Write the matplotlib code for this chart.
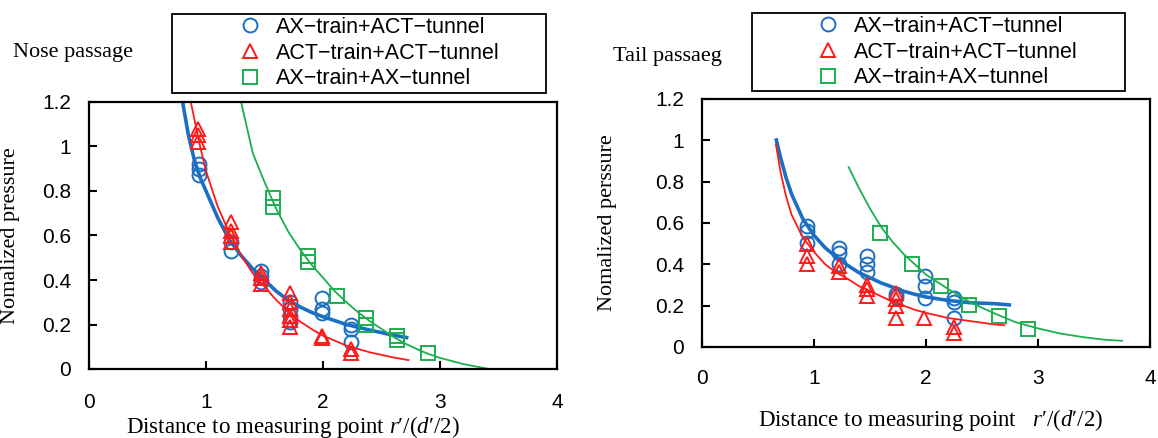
import numpy as np
import matplotlib
matplotlib.use("Agg")
from matplotlib import pyplot as plt
from matplotlib.patches import Rectangle
from matplotlib.ticker import MultipleLocator, FuncFormatter

plt.rcParams['font.family'] = ['Liberation Sans', 'DejaVu Sans']
plt.rcParams['mathtext.fontset'] = 'custom'
plt.rcParams['mathtext.rm'] = 'Liberation Serif'
plt.rcParams['mathtext.it'] = 'Liberation Serif:italic'

BLUE = '#1a6fc4'
RED = '#ff1a1a'
GREEN = '#1aaf4f'

labels = ['AX\u2212train+ACT\u2212tunnel', 'ACT\u2212train+ACT\u2212tunnel', 'AX\u2212train+AX\u2212tunnel']

#### Nose passage data
nose_ax_act_x = [0.94, 0.94, 0.94, 1.21, 1.21, 1.47, 1.47, 1.47, 1.72, 1.72, 1.72, 1.72,
                 1.99, 1.99, 1.99, 2.24, 2.24, 2.24]
nose_ax_act_y = [0.92, 0.90, 0.87, 0.57, 0.53, 0.44, 0.42, 0.39, 0.30, 0.27, 0.24, 0.21,
                 0.32, 0.27, 0.25, 0.20, 0.18, 0.12]
nose_act_act_x = [0.93, 0.93, 0.93, 1.21, 1.21, 1.21, 1.21, 1.47, 1.47, 1.47,
                  1.72, 1.72, 1.72, 1.72, 1.72, 1.72, 1.99, 1.99, 2.24, 2.24]
nose_act_act_y = [1.08, 1.05, 1.02, 0.66, 0.62, 0.60, 0.57, 0.43, 0.41, 0.38,
                  0.34, 0.30, 0.27, 0.24, 0.22, 0.19, 0.15, 0.14, 0.09, 0.07]
nose_ax_ax_x = [1.57, 1.57, 1.87, 1.87, 2.12, 2.37, 2.37, 2.63, 2.63, 2.90]
nose_ax_ax_y = [0.77, 0.73, 0.51, 0.48, 0.33, 0.23, 0.20, 0.15, 0.13, 0.07]

# fitted curves
nose_fit_blue_x = [0.80, 0.85, 0.90, 0.95, 1.0, 1.1, 1.2, 1.3, 1.4, 1.5, 1.6, 1.7, 1.8,
                   1.9, 2.0, 2.2, 2.4, 2.6, 2.73]
nose_fit_blue_y = [1.20, 1.05, 0.94, 0.86, 0.80, 0.68, 0.58, 0.51, 0.45, 0.40, 0.35, 0.31,
                   0.28, 0.255, 0.235, 0.20, 0.175, 0.152, 0.14]
nose_fit_red_x = [0.87, 0.95, 1.0, 1.1, 1.2, 1.3, 1.4, 1.5, 1.6, 1.7, 1.8, 1.9, 2.0,
                  2.2, 2.4, 2.6, 2.73]
nose_fit_red_y = [1.20, 1.00, 0.89, 0.73, 0.61, 0.51, 0.43, 0.37, 0.31, 0.26, 0.215, 0.18,
                  0.15, 0.105, 0.075, 0.052, 0.04]
nose_fit_green_x = [1.30, 1.4, 1.5, 1.6, 1.7, 1.8, 1.9, 2.0, 2.1, 2.2, 2.3, 2.4, 2.5,
                    2.6, 2.7, 2.8, 2.9, 3.0, 3.2, 3.42]
nose_fit_green_y = [1.20, 0.97, 0.84, 0.72, 0.62, 0.54, 0.47, 0.41, 0.35, 0.30, 0.255, 0.215,
                    0.18, 0.145, 0.115, 0.09, 0.068, 0.05, 0.022, 0.0]

#### Tail passage data
tail_ax_act_x = [0.94, 0.94, 0.94, 1.22, 1.22, 1.22, 1.47, 1.47, 1.47, 1.73, 1.73,
                 1.99, 1.99, 1.99, 2.25, 2.25, 2.25]
tail_ax_act_y = [0.585, 0.56, 0.505, 0.48, 0.455, 0.40, 0.44, 0.40, 0.365, 0.255, 0.24,
                 0.345, 0.295, 0.235, 0.235, 0.22, 0.14]
tail_act_act_x = [0.94, 0.94, 0.94, 1.22, 1.22, 1.47, 1.47, 1.47, 1.73, 1.73, 1.73, 1.73,
                  1.98, 2.25, 2.25]
tail_act_act_y = [0.50, 0.44, 0.40, 0.39, 0.365, 0.30, 0.28, 0.245, 0.26, 0.23, 0.20, 0.14,
                  0.14, 0.095, 0.07]
tail_ax_ax_x = [1.585, 1.875, 2.13, 2.385, 2.65, 2.91]
tail_ax_ax_y = [0.55, 0.40, 0.295, 0.205, 0.15, 0.085]

tail_fit_blue_x = [0.66, 0.70, 0.75, 0.80, 0.90, 1.0, 1.1, 1.2, 1.3, 1.4, 1.5, 1.6, 1.7,
                   1.8, 1.9, 2.0, 2.2, 2.4, 2.6, 2.76]
tail_fit_blue_y = [1.01, 0.92, 0.82, 0.74, 0.62, 0.54, 0.48, 0.435, 0.395, 0.36, 0.335, 0.31,
                   0.29, 0.27, 0.255, 0.242, 0.225, 0.214, 0.21, 0.203]
tail_fit_red_x = [0.66, 0.70, 0.75, 0.80, 0.90, 1.0, 1.1, 1.2, 1.3, 1.4, 1.5, 1.6, 1.7,
                  1.8, 1.9, 2.0, 2.2, 2.4, 2.6, 2.7]
tail_fit_red_y = [0.98, 0.85, 0.73, 0.64, 0.53, 0.46, 0.40, 0.36, 0.33, 0.295, 0.27, 0.245,
                  0.22, 0.20, 0.18, 0.165, 0.14, 0.125, 0.11, 0.105]
tail_fit_green_x = [1.31, 1.4, 1.5, 1.6, 1.7, 1.8, 1.9, 2.0, 2.2, 2.4, 2.6, 2.8, 3.0,
                    3.2, 3.4, 3.6, 3.75]
tail_fit_green_y = [0.87, 0.77, 0.67, 0.58, 0.51, 0.45, 0.40, 0.35, 0.28, 0.215, 0.165, 0.12,
                    0.09, 0.065, 0.048, 0.035, 0.03]

W, H = 1158, 438
fig = plt.figure(figsize=(W / 100, H / 100), dpi=100)


def px_box(x0, y0, x1, y1):
    return [x0 / W, 1 - y1 / H, (x1 - x0) / W, (y1 - y0) / H]


def Draw_Panel(ax, pts, fits, xpad):
    mk = dict(linestyle='none', markerfacecolor='none', markersize=10, markeredgewidth=1.4)
    (bx, by), (rx, ry), (gx, gy) = pts
    (fbx, fby), (frx, fry), (fgx, fgy) = fits
    h1, = ax.plot(bx, by, marker='o', color=BLUE, **mk)
    ax.plot(fbx, fby, color=BLUE, linewidth=2.6, solid_capstyle='butt')
    h2, = ax.plot(rx, ry, marker='^', color=RED, **mk)
    ax.plot(frx, fry, color=RED, linewidth=1.3)
    h3, = ax.plot(gx, gy, marker='s', color=GREEN, **mk)
    ax.plot(fgx, fgy, color=GREEN, linewidth=1.3)

    ax.set_xlim(0, 4)
    ax.set_ylim(0, 1.2)
    ax.xaxis.set_major_locator(MultipleLocator(1))
    ax.yaxis.set_major_locator(MultipleLocator(0.2))
    ax.yaxis.set_major_formatter(FuncFormatter(lambda v, p: '{:g}'.format(round(v, 2))))
    ax.tick_params(direction='in', length=6, width=1.5, labelsize=15)
    ax.tick_params(axis='x', pad=xpad)
    ax.tick_params(axis='y', pad=13)
    for s in ax.spines.values():
        s.set_linewidth(1.6)
    return [h1, h2, h3]


def Legend_Box(handles, x0, y0, x1, y1, mx):
    fig.add_artist(Rectangle((x0 / W, 1 - y1 / H), (x1 - x0) / W, (y1 - y0) / H,
                             transform=fig.transFigure, facecolor='white',
                             edgecolor='black', linewidth=1.3))
    fig.legend(handles, labels, loc='upper left', bbox_to_anchor=(mx / W, 1 - (y0 + 3) / H),
               frameon=False, fontsize=15.5, handlelength=0.9, handletextpad=0.75,
               labelspacing=0.22, borderpad=0.0, borderaxespad=0.0, numpoints=1)


XLABEL = "Distance to measuring point $r$\u2032/($d$\u2032/$\\mathit{2}$)"

ax1 = fig.add_axes(px_box(89, 102, 557, 369))
hs = Draw_Panel(ax1,
                [(nose_ax_act_x, nose_ax_act_y), (nose_act_act_x, nose_act_act_y), (nose_ax_ax_x, nose_ax_ax_y)],
                [(nose_fit_blue_x, nose_fit_blue_y), (nose_fit_red_x, nose_fit_red_y), (nose_fit_green_x, nose_fit_green_y)],
                17)
ax1.set_ylabel('Nomalized pressure', family='Liberation Serif', fontsize=16)
ax1.yaxis.set_label_coords(-0.147, 0.5)
fig.text(13 / W, 1 - 53 / H, 'Nose passage', family='Liberation Serif', fontsize=16, va='center')
fig.text(293 / W, 1 - 427 / H, XLABEL,
         family='Liberation Serif', fontsize=16.5, ha='center', va='center')
Legend_Box(hs, 172, 14, 546, 93, 240)

ax2 = fig.add_axes(px_box(702, 99, 1150, 347))
hs = Draw_Panel(ax2,
                [(tail_ax_act_x, tail_ax_act_y), (tail_act_act_x, tail_act_act_y), (tail_ax_ax_x, tail_ax_ax_y)],
                [(tail_fit_blue_x, tail_fit_blue_y), (tail_fit_red_x, tail_fit_red_y), (tail_fit_green_x, tail_fit_green_y)],
                15.5)
ax2.set_ylabel('Nomalized perssure', family='Liberation Serif', fontsize=16)
ax2.yaxis.set_label_coords(-0.19, 0.5)
fig.text(613 / W, 1 - 56 / H, 'Tail passaeg', family='Liberation Serif', fontsize=16, va='center')
fig.text(931 / W, 1 - 420 / H, XLABEL.replace('point ', 'point   '),
         family='Liberation Serif', fontsize=16.5, ha='center', va='center')
Legend_Box(hs, 752, 13, 1125, 91, 818)

fig.savefig('out.png', dpi=100)
